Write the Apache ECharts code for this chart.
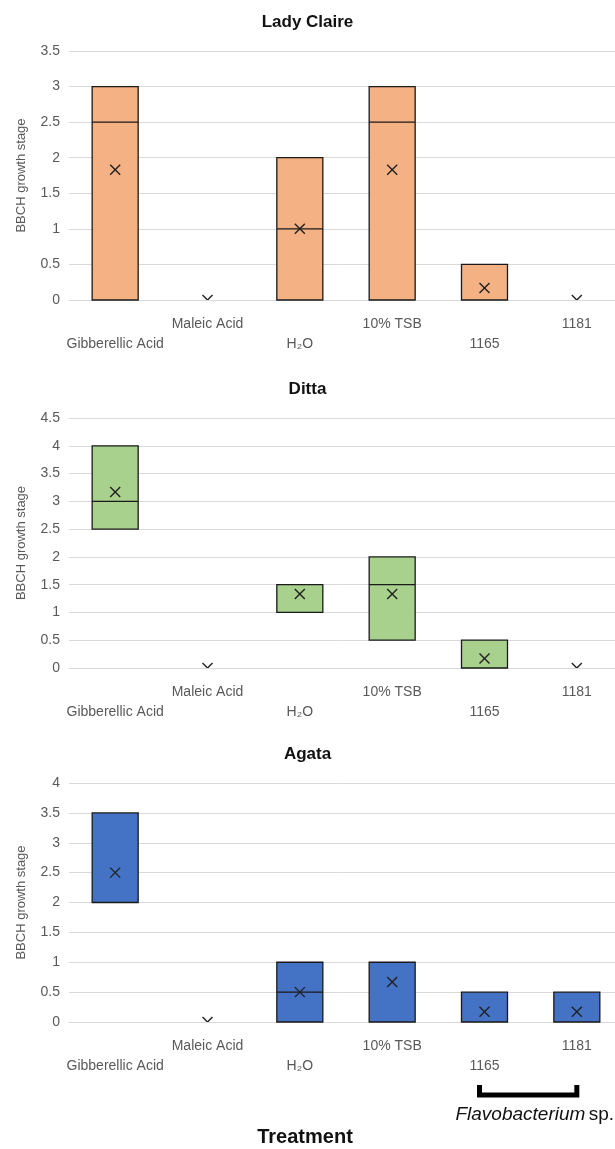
<!DOCTYPE html>
<html>
<head>
<meta charset="utf-8">
<script src="https://cdn.jsdelivr.net/npm/echarts@6/dist/echarts.min.js"></script>
<style>
  html, body { margin: 0; padding: 0; background: #fff; }
  #chart { width: 615px; height: 1149px; }
</style>
</head>
<body>
<div id="chart"></div>
<script>
var categories = ['Gibberellic Acid', 'Maleic Acid', 'H\u2082O', '10% TSB', '1165', '1181'];
var panelTitles = ['Lady Claire', 'Ditta', 'Agata'];
var yMax = [3.5, 4.5, 4];

// [min, Q1, median, Q3, max], '-' where there is no box
var ladyClaireBox = [[0, 0, 2.5, 3, 3], '-', [0, 0, 1, 2, 2], [0, 0, 2.5, 3, 3], [0, 0, 0, 0.5, 0.5], '-'];
var dittaBox = [[2.5, 2.5, 3, 4, 4], '-', [1, 1, 1.5, 1.5, 1.5], [0.5, 0.5, 1.5, 2, 2], [0, 0, 0, 0.5, 0.5], '-'];
var agataBox = [[2, 2, 2, 3.5, 3.5], '-', [0, 0, 0.5, 1, 1], [0, 0, 1, 1, 1], [0, 0, 0, 0.5, 0.5], [0, 0, 0, 0.5, 0.5]];

var ladyClaireMean = [1.83, 0, 1, 1.83, 0.17, 0];
var dittaMean = [3.17, 0, 1.33, 1.33, 0.17, 0];
var agataMean = [2.5, 0, 0.5, 0.67, 0.17, 0.17];

var boxData = [ladyClaireBox, dittaBox, agataBox];
var meanData = [ladyClaireMean, dittaMean, agataMean];
var colors = ['#F4B183', '#A9D18E', '#4472C4'];

var grids = [
  { top: 51, height: 249 },
  { top: 418, height: 250 },
  { top: 783, height: 239 }
];

var chart = echarts.init(document.getElementById('chart'));
var font = 'Liberation Sans';

var option = {
  animation: false,
  title: [],
  grid: [],
  xAxis: [],
  yAxis: [],
  series: []
};

for (var i = 0; i < 3; i++) {
  option.title.push({
    text: panelTitles[i],
    left: 'center',
    top: grids[i].top - 42,
    textStyle: { fontFamily: font, fontSize: 17, fontWeight: 'bold', color: '#111' }
  });
  // plot runs past the right edge of the picture
  option.grid.push({
    left: 69, width: 554, top: grids[i].top, height: grids[i].height,
    outerBoundsMode: 'none'
  });
  option.xAxis.push({
    type: 'category',
    gridIndex: i,
    data: categories,
    axisTick: { show: false },
    axisLine: { lineStyle: { color: '#d9d9d9', width: 1 } },
    axisLabel: {
      interval: 0,
      margin: 14,
      fontFamily: font,
      fontSize: 14,
      color: '#595959',
      lineHeight: 20,
      formatter: function (v, idx) {
        return idx % 2 === 0 ? '\n' + v : v;
      }
    }
  });
  option.yAxis.push({
    type: 'value',
    gridIndex: i,
    min: 0,
    max: yMax[i],
    interval: 0.5,
    name: 'BBCH growth stage',
    nameLocation: 'middle',
    nameGap: 41,
    nameTextStyle: { fontFamily: font, fontSize: 13, color: '#595959' },
    axisLine: { show: false },
    axisTick: { show: false },
    axisLabel: { fontFamily: font, fontSize: 14, color: '#595959', margin: 9 },
    splitLine: { lineStyle: { color: '#d9d9d9', width: 1 } }
  });
  option.series.push({
    type: 'boxplot',
    xAxisIndex: i,
    yAxisIndex: i,
    boxWidth: [46, 46],
    itemStyle: { color: colors[i], borderColor: '#1a1a1a', borderWidth: 1.3 },
    data: boxData[i]
  });
  option.series.push({
    type: 'custom',
    xAxisIndex: i,
    yAxisIndex: i,
    clip: true,
    z: 5,
    data: meanData[i].map(function (v, k) { return [k, v]; }),
    renderItem: function (params, api) {
      var p = api.coord([api.value(0), api.value(1)]);
      var s = 5;
      var st = { stroke: '#222', lineWidth: 1.4 };
      return {
        type: 'group',
        children: [
          { type: 'line', shape: { x1: p[0] - s, y1: p[1] - s, x2: p[0] + s, y2: p[1] + s }, style: st },
          { type: 'line', shape: { x1: p[0] - s, y1: p[1] + s, x2: p[0] + s, y2: p[1] - s }, style: st }
        ]
      };
    }
  });
}

option.title.push({
  text: 'Treatment',
  left: 300,
  top: 1122,
  textAlign: 'center',
  textStyle: { fontFamily: font, fontSize: 20, fontWeight: 'bold', color: '#111' }
});

chart.setOption(option);

// bracket under the two Flavobacterium strains
var a = chart.convertToPixel({ xAxisIndex: 2 }, '1165');
var b = chart.convertToPixel({ xAxisIndex: 2 }, '1181');
chart.setOption({
  graphic: [
    {
      type: 'polyline',
      shape: { points: [[a - 5, 1085], [a - 5, 1095], [b, 1095], [b, 1085]] },
      style: { stroke: '#000', lineWidth: 5, fill: null }
    },
    {
      type: 'text',
      right: 1,
      top: 1105,
      style: {
        rich: {
          i: { fontFamily: font, fontSize: 19, fontStyle: 'italic', fill: '#111' },
          n: { fontFamily: font, fontSize: 19, fill: '#111' }
        },
        text: '{i|Flavobacterium} {n|sp.}'
      }
    }
  ]
});
</script>
</body>
</html>
